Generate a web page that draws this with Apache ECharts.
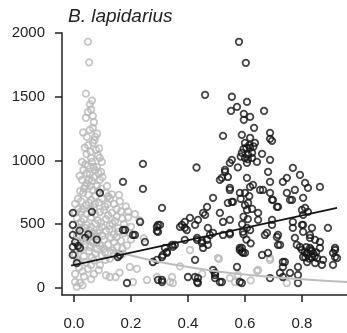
<!DOCTYPE html>
<html>
<head>
<meta charset="utf-8">
<script src="https://cdn.jsdelivr.net/npm/echarts@6/dist/echarts.min.js"></script>
<style>
  html, body { margin: 0; padding: 0; background: #fff; }
  #chart { width: 347px; height: 333px; }
</style>
</head>
<body>
<div id="chart"></div>
<script>
// x ticks / y ticks
const xTicks = [0, 0.2, 0.4, 0.6, 0.8]
const yTicks = [0, 500, 1000, 1500, 2000]

// grey points (other group)
const greyPts = [
  [0.049,1930],[0.053,1770],[0.042,1525],[0.063,1470],[0.056,1440],[0.060,1400],[0.049,1380],[0.042,1335],
  [0.066,1350],[0.070,1300],[0.066,1256],[0.032,1220],[0.081,1210],[0.045,1185],[0.074,1185],[0.066,1140],
  [0.050,1120],[0.077,1083],[0.058,1070],[0.088,1095],[0.044,1050],[0.084,1040],[0.028,989],[0.063,989],
  [0.098,989],[0.050,960],[0.080,950],[0.033,926],[0.074,926],[0.095,910],[0.056,890],[0.028,848],
  [0.063,840],[0.091,848],[0.046,820],[0.080,800],[0.116,800],[0.035,780],[0.067,770],[0.112,746],
  [0.133,735],[0.158,730],[0.032,746],[0.014,700],[0.060,690],[0.098,700],[0.126,700],[0.161,680],
  [0.004,660],[0.042,650],[0.074,660],[0.109,640],[0.140,660],[0.182,640],[0.004,589],[0.025,600],
  [0.060,610],[0.091,595],[0.133,589],[0.190,600],[0.214,580],
  [0.010,550],[0.035,540],[0.060,555],[0.084,530],[0.112,540],[0.144,525],[0.170,545],[0.230,530],
  [0.018,500],[0.046,495],[0.074,505],[0.098,480],[0.126,490],[0.155,470],[0.200,480],[0.007,455],
  [0.032,440],[0.056,450],[0.084,430],[0.112,445],[0.140,420],[0.175,430],[0.021,400],[0.049,390],
  [0.077,405],[0.105,380],[0.130,395],[0.165,370],[0.200,380],[0.245,390],[0.010,350],[0.039,340],
  [0.067,355],[0.091,330],[0.120,340],[0.151,320],[0.186,335],[0.025,300],[0.053,290],[0.081,305],
  [0.109,280],[0.137,295],[0.172,270],[0.004,260],[0.035,250],[0.063,240],[0.098,255],[0.126,230],
  [0.158,250],
  [0.014,210],[0.042,200],[0.070,215],[0.091,180],[0.018,160],[0.049,150],[0.087,141],[0.196,165],
  [0.221,150],[0.126,86],[0.146,86],[0.112,100],[0.256,63],[0.291,86],[0.337,47],[0.207,47],
  [0.004,47],[0.021,40],[0.004,110],[0.035,90],[0.060,70],[0.010,10],[0.030,20],[0.160,120],
  [0.277,204],[0.344,86],[0.347,39],[0.407,298],[0.505,235],[0.509,228],[0.547,78],[0.575,102],
  [0.642,133],[0.646,141],[0.565,47],[0.688,220],[0.688,235],[0.747,39],[0.372,170],[0.450,110],
  [0.620,60],
  [0.055,1240],[0.072,1160],[0.038,1100],[0.060,1020],[0.090,1020],[0.040,970],[0.068,950],[0.086,900],
  [0.045,900],[0.020,880],[0.070,870],[0.100,870],[0.052,850],[0.040,800],[0.057,800],[0.095,780],
  [0.022,760],[0.085,760],[0.050,730],[0.075,720],[0.120,720],[0.025,680],[0.088,670],[0.052,670],
  [0.118,660],[0.150,620],[0.070,630],[0.032,620],[0.105,610],[0.165,600],[0.015,620],[0.045,580],
  [0.075,580],[0.120,570],[0.150,560],[0.190,555],[0.025,520],[0.095,515],[0.135,505],[0.060,480],
  [0.175,500],[0.015,470],[0.040,470],[0.090,455],[0.125,460],[0.155,440],[0.070,430],[0.195,430],
  [0.010,410],[0.060,410],[0.100,410],[0.150,400],[0.035,370],[0.080,360],[0.140,360],[0.055,320],
  [0.105,310],[0.170,310],[0.020,330],[0.075,270],[0.140,260],[0.010,230],[0.110,220],[0.060,180],
  [0.030,130],[0.070,110]
]

// black points (focal group)
const blackPts = [
  [0.579,1931],[0.603,1766],[0.460,1515],[0.554,1500],[0.607,1460],[0.572,1421],[0.551,1389],[0.667,1389],
  [0.596,1366],[0.618,1342],[0.596,1319],[0.632,1256],[0.523,1193],[0.589,1201],[0.688,1217],[0.688,1170],
  [0.618,1178],[0.600,1138],[0.635,1138],[0.695,1154],[0.618,1099],[0.589,1060],[0.611,1044],[0.660,1052],
  [0.600,1020],[0.625,1020],[0.642,989],[0.688,1005],[0.607,981],[0.554,1005],[0.547,981],[0.575,946],
  [0.430,945],[0.530,911],[0.681,911],[0.768,942],[0.793,887],[0.540,871],[0.519,864],[0.747,864],
  [0.607,864],[0.688,832],[0.811,824],[0.547,785],[0.821,785],[0.863,793],[0.733,832],[0.775,769],
  [0.747,746],[0.582,746],[0.618,793],[0.653,769],[0.688,746],[0.488,707],[0.804,707],[0.695,691],
  [0.554,675],[0.467,636],[0.611,667],[0.712,636],[0.758,691],[0.811,628],[0.453,589],[0.512,589],
  [0.607,612],[0.646,589],[0.407,550],[0.628,808],[0.663,769],[0.600,746],[0.765,691],[0.698,691],
  [0.716,636],[0.800,612],[0.821,597],[0.804,573],[0.646,534],[0.695,534],[0.695,495],[0.768,518],
  [0.768,471],[0.607,471],[0.593,440],[0.804,495],[0.835,471],[0.891,471],[0.804,440],[0.670,416],
  [0.712,400],[0.775,393],[0.828,393],[0.846,377],[0.716,338],[0.782,338],[0.863,361],[0.793,322],
  [0.828,314],[0.863,314],[0.916,298],[0.589,314],[0.600,275],[0.660,259],[0.681,275],[0.818,275],
  [0.804,243],[0.835,243],[0.853,235],[0.874,220],[0.916,243],[0.818,204],[0.846,196],[0.870,181],
  [0.909,181],[0.733,204],[0.733,165],[0.786,165],[0.723,118],[0.758,118],[0.786,102],[0.688,78],
  [0.733,86],[0.786,39],[0.589,39],
  [0.810,280],[0.820,260],[0.830,300],[0.840,270],[0.800,300],[0.825,230],[0.815,320],[0.845,250],
  [0.835,290],[0.812,240],[0.850,280],
  [0.379,495],[0.389,471],[0.425,495],[0.470,471],[0.488,432],[0.523,416],[0.547,432],[0.618,455],
  [0.716,416],[0.723,338],[0.677,432],[0.800,495],[0.828,416],[0.344,338],[0.389,377],[0.432,377],
  [0.449,353],[0.453,314],[0.477,416],[0.425,220],[0.582,298],[0.593,275],[0.740,204],[0.572,165],
  [0.488,141],[0.495,102],[0.519,47],[0.400,86],[0.425,86],[0.432,47],[0.909,275],[0.916,314],
  [0.923,235],
  [0.309,628],[0.295,495],[0.291,447],[0.372,479],[0.389,518],[0.396,455],[0.435,534],[0.460,573],
  [0.523,518],[0.547,534],[0.540,667],[0.558,675],[0.547,769],[0.512,848],[0.530,926],[0.432,393],
  [0.449,370],[0.467,377],[0.470,338],[0.547,420],[0.582,314],[0.589,283],[0.354,338],[0.319,314],
  [0.326,275],[0.309,243],[0.309,63],[0.435,78],[0.435,39],[0.495,118],[0.495,78],[0.512,47],
  [0.582,47],[0.291,220],
  [0.172,832],[0.242,973],[0.242,777],[0.091,746],[-0.004,589],[-0.004,495],[-0.004,416],[-0.004,322],
  [-0.004,259],[0.010,196],[0.063,597],[0.172,455],[0.232,518],[0.214,416],[0.249,361],[0.291,479],
  [0.295,440],[0.154,243],[0.186,39],[0.295,63],[0.021,314],[0.039,393],[0.179,455],[0.207,416],
  [0.302,495],[0.161,259],[0.277,204],[0.312,259],[0.326,283],[0.347,322],[0.309,47],[0.004,360],
  [0.014,330],[0.050,420],[0.020,450],[0.080,380],
  [0.605,1100],[0.615,1120],[0.595,1090],[0.625,1060],[0.610,1010],[0.630,1110],[0.585,1030],
  [0.585,700],[0.600,650],[0.615,720],[0.595,560],[0.610,540],[0.625,620],[0.590,500],[0.605,380],
  [0.620,350],[0.595,420]
]

// fitted lines
const blackFit = [[-0.01,176],[0.923,628]]
const greyFit = [[0,400],[0.2,255],[0.4,165],[0.6,105],[0.8,68],[0.958,47]]

const chart = echarts.init(document.getElementById('chart'), null, { renderer: 'canvas' })

const axisCommon = {
  axisLine: { show: true, onZero: false, lineStyle: { color: '#222', width: 1.5 } },
  axisTick: { show: true, length: 7, lineStyle: { color: '#222', width: 1.5 } },
  splitLine: { show: false },
  axisLabel: { color: '#222', fontSize: 15, fontFamily: 'Liberation Sans, Arial, sans-serif' }
}

let option = {
  animation: false,
  backgroundColor: '#fff',
  title: {
    text: 'B. lapidarius',
    left: 63,
    top: 2,
    textStyle: {
      fontStyle: 'italic',
      fontWeight: 'normal',
      fontSize: 19,
      color: '#222',
      fontFamily: 'Liberation Sans, Arial, sans-serif'
    }
  },
  grid: { left: 62, right: 0, top: 33, bottom: 38, outerBoundsMode: 'none' },
  xAxis: {
    type: 'value',
    min: -0.042,
    max: 0.958,
    axisLine: axisCommon.axisLine,
    splitLine: axisCommon.splitLine,
    axisTick: Object.assign({}, axisCommon.axisTick, { customValues: xTicks }),
    axisLabel: Object.assign({}, axisCommon.axisLabel, {
      customValues: xTicks,
      margin: 21,
      formatter: v => v.toFixed(1)
    })
  },
  yAxis: {
    type: 'value',
    min: -55,
    max: 2000,
    axisLine: axisCommon.axisLine,
    splitLine: axisCommon.splitLine,
    axisTick: Object.assign({}, axisCommon.axisTick, { customValues: yTicks }),
    axisLabel: Object.assign({}, axisCommon.axisLabel, {
      customValues: yTicks,
      margin: 17,
      formatter: v => String(v)
    })
  },
  series: [
    {
      type: 'scatter',
      data: greyPts,
      symbol: 'circle',
      symbolSize: 6.5,
      itemStyle: { color: 'rgba(0,0,0,0)', borderColor: '#b8b8b8', borderWidth: 1.8 }
    },
    {
      type: 'scatter',
      data: blackPts,
      symbol: 'circle',
      symbolSize: 6.5,
      itemStyle: { color: 'rgba(0,0,0,0)', borderColor: '#151515', borderWidth: 1.8 }
    },
    {
      type: 'line',
      data: greyFit,
      smooth: true,
      symbol: 'none',
      lineStyle: { color: '#bdbdbd', width: 2 }
    },
    {
      type: 'line',
      data: blackFit,
      symbol: 'none',
      lineStyle: { color: '#151515', width: 1.8 }
    }
  ]
}

chart.setOption(option)
</script>
</body>
</html>
